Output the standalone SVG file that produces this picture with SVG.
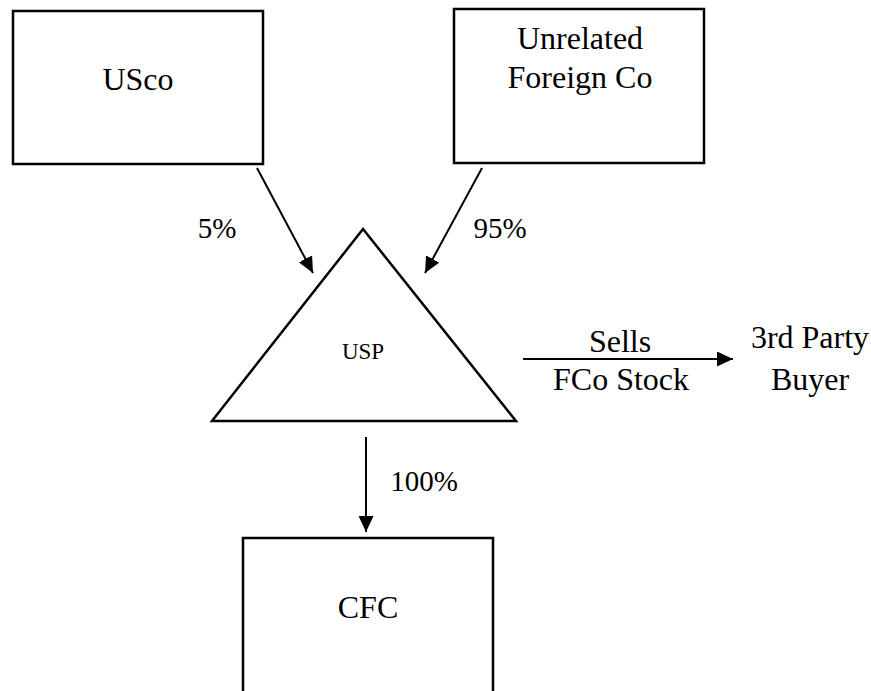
<svg xmlns="http://www.w3.org/2000/svg" width="871" height="691" viewBox="0 0 871 691">
<defs>
<marker id="ah2" viewBox="0 0 16 15" refX="16" refY="7.5" markerWidth="16" markerHeight="15" markerUnits="userSpaceOnUse" orient="auto">
<path d="M0,0 L16,7.5 L0,15 z" fill="#000"/>
</marker>
<style>
.box{fill:#fff;stroke:#000;stroke-width:2.5}
text{font-family:'Liberation Serif','DejaVu Serif','Times New Roman',serif;fill:#000;text-anchor:middle}
.big{font-size:32px}
.pct{font-size:29px}
.conn{stroke:#000;stroke-width:2;fill:none;marker-end:url(#ah2)}
</style>
</defs>
<g font-family="Liberation Serif, DejaVu Serif, serif">
<g id="usco">
<rect class="box" x="13" y="11" width="250" height="153"/>
<text class="big" x="138" y="90" font-family="Liberation Serif, serif">USco</text>
</g>
<g id="foreign">
<rect class="box" x="454" y="9" width="250" height="154"/>
<text class="big" x="580" y="49" font-family="Liberation Serif, serif">Unrelated</text>
<text class="big" x="580" y="88" font-family="Liberation Serif, serif">Foreign Co</text>
</g>
<g id="usp">
<polygon points="363,229 212,421 516,421" fill="#fff" stroke="#000" stroke-width="2.5"/>
<text x="363" y="359" font-size="23" font-family="Liberation Serif, serif">USP</text>
</g>
<g id="buyer">
<text class="big" x="810" y="348" font-family="Liberation Serif, serif">3rd Party</text>
<text class="big" x="810" y="390" font-family="Liberation Serif, serif">Buyer</text>
</g>
<g id="cfc">
<rect class="box" x="243" y="538" width="250" height="180"/>
<text class="big" x="368" y="618" font-family="Liberation Serif, serif">CFC</text>
</g>
<g id="connectors">
<line class="conn" x1="257" y1="168" x2="313" y2="273"/>
<line class="conn" x1="482" y1="168" x2="425" y2="273"/>
<line class="conn" x1="523" y1="359" x2="733" y2="359"/>
<line class="conn" x1="366" y1="437" x2="366" y2="532"/>
<text class="pct" x="217" y="238" font-family="Liberation Serif, serif">5%</text>
<text class="pct" x="500" y="238" font-family="Liberation Serif, serif">95%</text>
<text class="pct" x="424" y="491" font-family="Liberation Serif, serif">100%</text>
<text class="big" x="620" y="352" font-family="Liberation Serif, serif">Sells</text>
<text class="big" x="621" y="390" font-family="Liberation Serif, serif">FCo Stock</text>
</g>
</g>
</svg>
